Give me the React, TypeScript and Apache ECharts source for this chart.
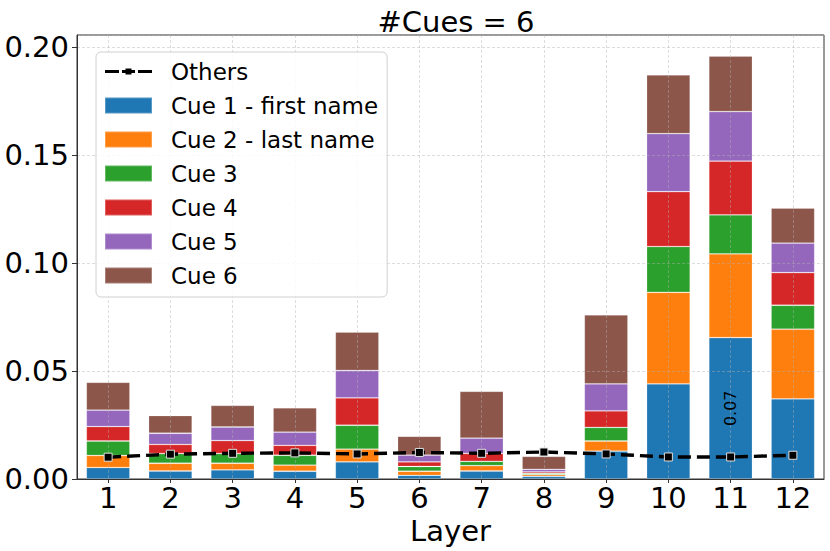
import React, { useEffect, useRef } from "react";
import * as echarts from "echarts";

const layers = ["1", "2", "3", "4", "5", "6", "7", "8", "9", "10", "11", "12"];
const cueNames = ["Cue 1 - first name", "Cue 2 - last name", "Cue 3", "Cue 4", "Cue 5", "Cue 6"];
const cueColors = ["#1f77b4", "#ff7f0e", "#2ca02c", "#d62728", "#9467bd", "#8c564b"];
const cue1 = [0.0053, 0.0037, 0.0042, 0.0036, 0.0079, 0.0017, 0.0037, 0.0012, 0.0129, 0.0441, 0.0655, 0.0371];
const cue2 = [0.0056, 0.0036, 0.0031, 0.0028, 0.0059, 0.0019, 0.0025, 0.0008, 0.0047, 0.0424, 0.0388, 0.0323];
const cue3 = [0.0067, 0.0045, 0.0045, 0.0046, 0.0111, 0.0022, 0.002, 0.0006, 0.0063, 0.0212, 0.0181, 0.0111];
const cue4 = [0.0067, 0.0042, 0.006, 0.0046, 0.0127, 0.0021, 0.0037, 0.0007, 0.0077, 0.0254, 0.0249, 0.0151];
const cue5 = [0.0076, 0.0052, 0.0063, 0.0061, 0.0127, 0.0032, 0.007, 0.0012, 0.0125, 0.0269, 0.0229, 0.0137];
const cue6 = [0.0129, 0.0082, 0.01, 0.0113, 0.0178, 0.0087, 0.0217, 0.006, 0.0319, 0.0272, 0.0257, 0.0162];
const others = [0.0101, 0.0115, 0.0119, 0.0121, 0.0116, 0.0123, 0.0119, 0.0125, 0.0116, 0.0102, 0.0102, 0.011];
const yTicks = [0, 0.05, 0.1, 0.15, 0.2];
const labelThreshold = 0.05;

const FONT = "DejaVu Sans";
const OTHERS_ICON =
  "path://M0,6.5h14v3h-14z M17,6.5h13v3h-13z M20.5,5h6v6h-6z M33,6.5h14v3h-14z";

export default function App() {
  const ref = useRef<HTMLDivElement>(null);
  useEffect(() => {
    document.body.style.margin = "0";
    if (!ref.current) return;
    const chart = echarts.init(ref.current, undefined, { renderer: "svg" });
    const cues = [cue1, cue2, cue3, cue4, cue5, cue6];
    const barSeries = cues.map((vals, i) => ({
      name: cueNames[i],
      type: "bar",
      stack: "cues",
      barWidth: "70%",
      z: 2,
      itemStyle: { color: cueColors[i], borderColor: "rgba(255,255,255,0.25)", borderWidth: 0.8 },
      data: vals.map((v) => ({
        value: v,
        label: {
          show: v >= labelThreshold,
          position: "inside",
          rotate: 90,
          formatter: (p: any) => Number(p.value).toFixed(2),
          fontFamily: FONT,
          fontSize: 16,
          color: "#000",
        },
      })),
    }));
    const gridLine = { show: true, lineStyle: { color: "rgba(176,176,176,0.55)", width: 0.8, type: [3, 2] } };
    chart.setOption({
      animation: false,
      title: {
        text: "#Cues = 6",
        left: 451,
        textAlign: "center",
        top: 2,
        textStyle: { fontFamily: FONT, fontSize: 29, fontWeight: "normal", color: "#000" },
      },
      grid: {
        left: 77,
        right: 6,
        top: 35,
        bottom: 72,
        outerBoundsMode: "none",
        containLabel: false,
        show: true,
        borderColor: "#333",
        borderWidth: 1,
        backgroundColor: "transparent",
      },
      legend: {
        orient: "vertical",
        left: 96,
        top: 52,
        data: [
          { name: "Others", icon: OTHERS_ICON, itemStyle: { color: "#000", borderWidth: 0 } },
          ...cueNames.map((n) => ({ name: n, icon: "rect" })),
        ],
        itemWidth: 47,
        itemHeight: 16,
        itemGap: 11,
        symbolKeepAspect: true,
        padding: [8, 9, 10, 8],
        backgroundColor: "rgba(255,255,255,0.85)",
        borderColor: "#d0d0d0",
        borderWidth: 1,
        borderRadius: 5,
        textStyle: { fontFamily: FONT, fontSize: 23, lineHeight: 23, color: "#000", padding: [0, 0, 0, 14] },
        z: 6,
      },
      xAxis: {
        type: "category",
        data: layers,
        boundaryGap: true,
        z: 3,
        name: "Layer",
        nameLocation: "middle",
        nameGap: 35,
        nameTextStyle: { fontFamily: FONT, fontSize: 29, color: "#000", verticalAlign: "top" },
        axisLine: { show: true, lineStyle: { color: "#333", width: 1 } },
        axisTick: { show: true, alignWithLabel: true, length: 4, lineStyle: { color: "#333" } },
        axisLabel: { fontFamily: FONT, fontSize: 29, color: "#000", margin: 4 },
        splitLine: { ...gridLine, alignWithLabel: true },
      },
      yAxis: {
        type: "value",
        min: 0,
        max: 0.2057,
        interval: 0.05,
        z: 3,
        axisLine: { show: true, lineStyle: { color: "#333", width: 1 } },
        axisTick: { show: true, length: 5, lineStyle: { color: "#333" } },
        axisLabel: {
          fontFamily: FONT,
          fontSize: 29,
          color: "#000",
          margin: 8,
          showMaxLabel: false,
          formatter: (v: number) => (yTicks.some((t) => Math.abs(t - v) < 1e-9) ? v.toFixed(2) : ""),
        },
        splitLine: gridLine,
      },
      series: [
        {
          name: "Others",
          type: "line",
          data: others,
          z: 10,
          symbol: "rect",
          symbolSize: 8,
          itemStyle: { color: "#000", borderColor: "#e0e0e0", borderWidth: 1 },
          lineStyle: { color: "#000", width: 3.4, type: [13, 6] },
        },
        ...barSeries,
      ],
    });
    return () => chart.dispose();
  }, []);
  return <div ref={ref} style={{ width: 830, height: 551 }} />;
}
